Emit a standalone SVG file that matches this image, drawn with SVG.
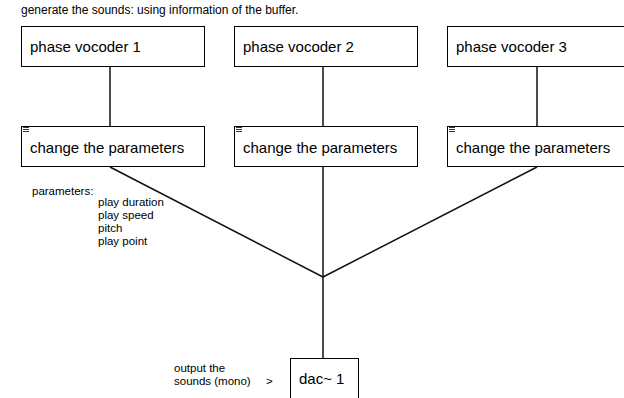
<svg xmlns="http://www.w3.org/2000/svg" width="624" height="398" viewBox="0 0 624 398">
  <style>
    .box { fill: #ffffff; stroke: #000000; stroke-width: 1; }
    .wire { stroke: #111111; stroke-width: 1.5; fill: none; }
    .label { font-family: "Liberation Sans", Arial, sans-serif; fill: #000000; }
    .big { font-size: 15px; }
    .small { font-size: 12px; }
    .note { font-size: 11.5px; }
    .menu { stroke: #000000; stroke-width: 0.8; }
  </style>
  <defs>
    <g id="menuIcon">
      <line class="menu" x1="0" y1="0.5" x2="6" y2="0.5"/>
      <line class="menu" x1="0" y1="2.5" x2="6" y2="2.5"/>
      <line class="menu" x1="0" y1="4.5" x2="6" y2="4.5"/>
    </g>
  </defs>

  <rect width="624" height="398" fill="#ffffff"/>

  <text class="label small" x="21" y="14">generate the sounds: using information of the buffer.</text>

  <g id="connectors">
    <line class="wire" x1="110" y1="67" x2="110" y2="126"/>
    <line class="wire" x1="323" y1="67" x2="323" y2="126"/>
    <line class="wire" x1="537" y1="67" x2="537" y2="126"/>
    <line class="wire" x1="110" y1="167" x2="323" y2="277"/>
    <line class="wire" x1="537" y1="167" x2="323" y2="277"/>
    <line class="wire" x1="323" y1="167" x2="323" y2="358"/>
  </g>

  <g id="pv1">
    <rect class="box" x="21.5" y="26.5" width="183" height="40"/>
    <text class="label big" x="30" y="52">phase vocoder 1</text>
  </g>
  <g id="pv2">
    <rect class="box" x="234.5" y="26.5" width="183" height="40"/>
    <text class="label big" x="243" y="52">phase vocoder 2</text>
  </g>
  <g id="pv3">
    <rect class="box" x="447.5" y="26.5" width="183" height="40"/>
    <text class="label big" x="456" y="52">phase vocoder 3</text>
  </g>

  <g id="params1">
    <rect class="box" x="21.5" y="126.5" width="183" height="40"/>
    <use href="#menuIcon" x="23" y="127"/>
    <text class="label big" x="30" y="153">change the parameters</text>
  </g>
  <g id="params2">
    <rect class="box" x="234.5" y="126.5" width="183" height="40"/>
    <use href="#menuIcon" x="236" y="127"/>
    <text class="label big" x="243" y="153">change the parameters</text>
  </g>
  <g id="params3">
    <rect class="box" x="447.5" y="126.5" width="183" height="40"/>
    <use href="#menuIcon" x="449" y="127"/>
    <text class="label big" x="456" y="153">change the parameters</text>
  </g>

  <g id="paramList">
    <text class="label note" x="32" y="195">parameters:</text>
    <text class="label note" x="98" y="205.5">play duration</text>
    <text class="label note" x="98" y="218.5">play speed</text>
    <text class="label note" x="98" y="231.5">pitch</text>
    <text class="label note" x="98" y="244.5">play point</text>
  </g>

  <g id="dac">
    <rect class="box" x="290.5" y="358.5" width="68" height="50"/>
    <text class="label big" x="299" y="384">dac~ 1</text>
  </g>

  <g id="outputNote">
    <text class="label note" x="174" y="372">output the</text>
    <text class="label note" x="174" y="385">sounds (mono)<tspan x="266">&gt;</tspan></text>
  </g>
</svg>
